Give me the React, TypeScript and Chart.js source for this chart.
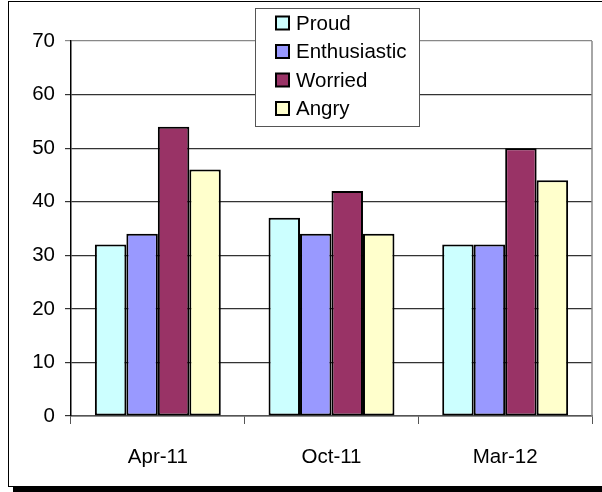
import React, { useEffect, useRef } from "react";
import { Chart, registerables } from "chart.js";

Chart.register(...registerables);

const categories = ["Apr-11", "Oct-11", "Mar-12"];
const seriesNames = ["Proud", "Enthusiastic", "Worried", "Angry"];
const proud = [32, 37, 32];
const enthusiastic = [34, 34, 32];
const worried = [54, 42, 50];
const angry = [46, 34, 44];
const seriesColors = ["#CCFFFF", "#9999FF", "#993366", "#FFFFCC"];
const yTicks = [0, 10, 20, 30, 40, 50, 60, 70];

const FONT = "'Liberation Sans', Arial, sans-serif";
const FS = 20.5;

const legendPlugin = {
  id: "boxLegend",
  afterDraw(chart: any) {
    const ctx = chart.ctx;
    const x = 255, y = 8, w = 164, h = 118;
    ctx.save();
    ctx.fillStyle = "#ffffff";
    ctx.fillRect(x, y, w, h);
    ctx.strokeStyle = "#555";
    ctx.lineWidth = 1;
    ctx.strokeRect(x + 0.5, y + 0.5, w, h);
    ctx.font = `${FS}px ${FONT}`;
    ctx.textBaseline = "middle";
    ctx.textAlign = "left";
    chart.data.datasets.forEach((ds: any, i: number) => {
      const cy = 23 + i * 28.5;
      ctx.fillStyle = ds.backgroundColor;
      ctx.fillRect(276, cy - 6.5, 13, 13);
      ctx.strokeStyle = "#000";
      ctx.lineWidth = 2;
      ctx.strokeRect(276, cy - 6.5, 13, 13);
      ctx.fillStyle = "#000";
      ctx.fillText(ds.label, 296, cy + 1);
    });
    ctx.restore();
  },
};

const borderPlugin = {
  id: "plotBorder",
  afterDatasetsDraw(chart: any) {
    const { ctx, chartArea } = chart;
    ctx.save();
    ctx.strokeStyle = "#888";
    ctx.lineWidth = 1.5;
    ctx.beginPath();
    ctx.moveTo(chartArea.right, chartArea.top);
    ctx.lineTo(chartArea.right, chartArea.bottom);
    ctx.stroke();
    ctx.restore();
  },
};

export default function App() {
  const ref = useRef<HTMLCanvasElement>(null);
  useEffect(() => {
    if (!ref.current) return;
    const values = [proud, enthusiastic, worried, angry];
    const chart = new Chart(ref.current, {
      type: "bar",
      data: {
        labels: categories,
        datasets: seriesNames.map((name, i) => ({
          label: name,
          data: values[i],
          backgroundColor: seriesColors[i],
          borderColor: "#000",
          borderWidth: 2,
          borderSkipped: false,
          barPercentage: 1,
          categoryPercentage: 0.725,
        })),
      },
      options: {
        animation: false,
        responsive: false,
        devicePixelRatio: 1,
        layout: { padding: { left: 0, top: 41, right: 10, bottom: 0 } },
        plugins: { legend: { display: false }, tooltip: { enabled: false } },
        scales: {
          x: {
            grid: {
              display: true,
              drawOnChartArea: false,
              offset: true,
              tickLength: 8,
              color: "#555",
            },
            border: { color: "#555", width: 1.5 },
            ticks: { color: "#000", font: { family: FONT, size: FS }, padding: 21 },
            afterFit: (s: any) => {
              s.height = 76;
            },
          },
          y: {
            min: 0,
            max: 70,
            afterBuildTicks: (s: any) => {
              s.ticks = yTicks.map((v) => ({ value: v }));
            },
            grid: {
              color: (c: any) => (c.tick && c.tick.value === 70 ? "#888" : "#333"),
              lineWidth: 1.2,
              tickLength: 6,
            },
            border: { color: "#000", width: 1.5 },
            ticks: { color: "#000", font: { family: FONT, size: FS }, padding: 10 },
            afterFit: (s: any) => {
              s.width = 71;
            },
          },
        },
      },
      plugins: [borderPlugin, legendPlugin],
    });
    return () => chart.destroy();
  }, []);

  return (
    <div
      style={{
        position: "fixed",
        left: 0,
        top: 0,
        width: 602,
        height: 492,
        overflow: "hidden",
        background: "#fff",
      }}
    >
      <div
        style={{
          position: "absolute",
          left: 8,
          top: 1,
          width: 620,
          height: 484,
          border: "1px solid #000",
          boxShadow: "5px 6px 0 #000",
          background: "#fff",
        }}
      />
      <canvas
        ref={ref}
        width={602}
        height={492}
        style={{ position: "absolute", left: 0, top: 0, width: 602, height: 492 }}
      />
    </div>
  );
}
